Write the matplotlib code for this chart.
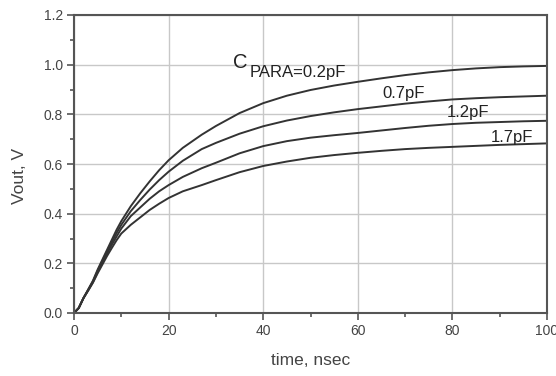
import matplotlib
matplotlib.use("Agg")
import matplotlib.pyplot as plt
from matplotlib.ticker import MultipleLocator, FormatStrFormatter

plt.rcParams['font.family'] = ['Liberation Sans', 'DejaVu Sans']

t_ns = [0, 1, 2, 3, 4, 5, 6, 7, 8, 9, 10, 12, 14, 16, 18, 20, 23, 27, 30, 35,
        40, 45, 50, 55, 60, 65, 70, 75, 80, 85, 90, 95, 100]
v_02 = [0, 0.02, 0.06, 0.095, 0.13, 0.175, 0.215, 0.255, 0.295, 0.335, 0.37, 0.43, 0.482, 0.53, 0.575, 0.615, 0.665, 0.718, 0.753, 0.805,
        0.845, 0.875, 0.898, 0.916, 0.931, 0.945, 0.958, 0.969, 0.978, 0.985, 0.990, 0.993, 0.995]
v_07 = [0, 0.02, 0.06, 0.093, 0.127, 0.17, 0.21, 0.248, 0.285, 0.322, 0.355, 0.41, 0.455, 0.497, 0.535, 0.569, 0.613, 0.66, 0.685, 0.722,
        0.752, 0.775, 0.793, 0.808, 0.821, 0.832, 0.843, 0.852, 0.860, 0.865, 0.869, 0.872, 0.875]
v_12 = [0, 0.02, 0.06, 0.092, 0.124, 0.165, 0.203, 0.24, 0.275, 0.308, 0.34, 0.39, 0.425, 0.46, 0.49, 0.515, 0.548, 0.583, 0.605, 0.643,
        0.672, 0.692, 0.706, 0.716, 0.725, 0.735, 0.745, 0.754, 0.761, 0.766, 0.769, 0.772, 0.774]
v_17 = [0, 0.02, 0.06, 0.09, 0.122, 0.16, 0.195, 0.23, 0.262, 0.293, 0.32, 0.355, 0.385, 0.415, 0.44, 0.463, 0.49, 0.515, 0.535, 0.567,
        0.592, 0.61, 0.625, 0.636, 0.645, 0.653, 0.66, 0.665, 0.669, 0.673, 0.677, 0.68, 0.683]
series = [v_02, v_07, v_12, v_17]

fig = plt.figure(figsize=(5.56, 3.76), dpi=100)
ax = fig.add_axes([74/556, 1-313/376, (547-74)/556, (313-15)/376])

for v in series:
    ax.plot(t_ns, v, color='#333333', lw=1.4)

ax.set_xlim(0, 100)
ax.set_ylim(0, 1.2)
ax.xaxis.set_major_locator(MultipleLocator(20))
ax.xaxis.set_minor_locator(MultipleLocator(10))
ax.yaxis.set_major_locator(MultipleLocator(0.2))
ax.yaxis.set_minor_locator(MultipleLocator(0.1))
ax.yaxis.set_major_formatter(FormatStrFormatter('%.1f'))
ax.grid(True, which='major', color='#c8c8c8', lw=1)
ax.set_axisbelow(True)
for s in ax.spines.values():
    s.set_color('#555555')
    s.set_linewidth(1.5)
ax.tick_params(which='major', length=5, width=1.2, color='#555555', labelsize=10, labelcolor='#444444', pad=3)
ax.tick_params(which='minor', length=3, width=1.2, color='#555555')

ax.set_xlabel('time, nsec', fontsize=12.5, color='#444444')
ax.set_ylabel('Vout, V', fontsize=12.5, color='#444444')
ax.xaxis.set_label_coords(0.5, -0.135)
ax.yaxis.set_label_coords(-0.1, 0.46)

tc = '#222222'
ax.text(33.6, 0.986, 'C', fontsize=14.5, color=tc, ha='left', va='baseline')
ax.text(37.2, 0.951, 'PARA=0.2pF', fontsize=12, color=tc, ha='left', va='baseline')
ax.text(65.3, 0.864, '0.7pF', fontsize=12, color=tc, ha='left', va='baseline')
ax.text(78.9, 0.788, '1.2pF', fontsize=12, color=tc, ha='left', va='baseline')
ax.text(88.2, 0.689, '1.7pF', fontsize=12, color=tc, ha='left', va='baseline')

fig.savefig('out.png', dpi=100)
